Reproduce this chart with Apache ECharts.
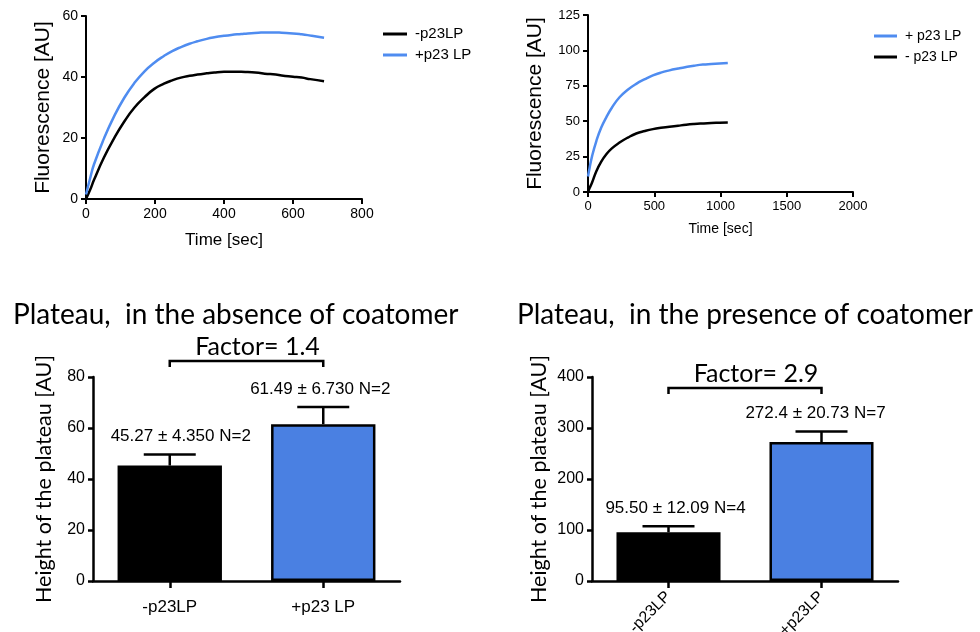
<!DOCTYPE html>
<html>
<head>
<meta charset="utf-8">
<script src="https://cdn.jsdelivr.net/npm/echarts@6/dist/echarts.min.js"></script>
<style>
html,body{margin:0;padding:0;background:#fff;}
#c{width:980px;height:632px;}
</style>
</head>
<body>
<div id="c"></div>
<script>
// ---- Top-left: kinetics, absence of coatomer ----
const tlTime  = [0, 12, 23, 52, 81, 111, 140, 169, 198, 226, 250, 275, 300, 323, 350, 372, 400, 421, 450, 469, 500, 518, 550, 567, 600, 625, 650, 690];
const tlMinus = [0, 3, 6.2, 13.6, 19.8, 25.4, 29.9, 33.3, 36.1, 37.8, 38.9, 39.8, 40.4, 40.8, 41.2, 41.5, 41.7, 41.7, 41.7, 41.6, 41.4, 41.1, 40.8, 40.5, 40.1, 39.8, 39.3, 38.6];
const tlPlus  = [1.5, 6.8, 11.3, 19.8, 27, 33.2, 38, 41.8, 44.7, 46.9, 48.5, 49.8, 50.9, 51.7, 52.5, 53.0, 53.5, 53.8, 54.1, 54.3, 54.5, 54.6, 54.6, 54.5, 54.3, 54.0, 53.6, 52.9];
const tlNames = ['-p23LP', '+p23 LP'];

// ---- Top-right: kinetics, presence of coatomer ----
const trTime  = [0, 12, 30, 63, 100, 138, 180, 238, 300, 364, 430, 490, 550, 615, 680, 741, 800, 867, 930, 992, 1055];
const trPlus  = [11, 17, 25, 36, 45.5, 52.7, 59.5, 66.9, 72.2, 76.4, 79.7, 82.3, 84.3, 85.9, 87.2, 88.3, 89.2, 90, 90.4, 90.7, 91.1];
const trMinus = [0, 2.8, 6.5, 14.7, 21.5, 26.6, 30.8, 34.9, 38.4, 41.3, 43.1, 44.4, 45.3, 46, 46.8, 47.5, 48, 48.4, 48.7, 48.9, 49.1];
const trNames = ['+ p23 LP', '- p23 LP'];

// ---- Bottom-left: plateau, absence of coatomer ----
const absCats = ['-p23LP', '+p23 LP'];
const absMean = [45.27, 61.49];
const absSD   = [4.350, 6.730];
const absN    = [2, 2];

// ---- Bottom-right: plateau, presence of coatomer ----
const preCats = ['-p23LP', '+p23LP'];
const preMean = [95.50, 272.4];
const preSD   = [12.09, 20.73];
const preN    = [4, 7];

const titles = ['Plateau,  in the absence of coatomer', 'Plateau,  in the presence of coatomer'];

// style constants (label nudges in pixels, not data)
const absLabelNudge = [11, -3];
const preLabelNudge = [7, -6];

const BLACK = '#000000';
const LINE_BLUE = '#4f8cf0';
const BAR_BLUE = '#4a80e2';
const ARIAL = '"Liberation Sans", Arial, sans-serif';
const CALIBRI = 'Lato, "Open Sans", sans-serif';

function pairs(xs, ys) { return xs.map((x, i) => [x, ys[i]]); }
function fmt(v) { return Number(v).toPrecision(4); }

function errorRender(means, sds, ns, nudge) {
  return function (params, api) {
    const i = params.dataIndex;
    const base = api.coord([i, means[i]]);
    const top = api.coord([i, means[i] + sds[i]]);
    const st = { stroke: BLACK, lineWidth: 2.5 };
    return {
      type: 'group',
      children: [
        { type: 'line', shape: { x1: base[0], y1: base[1], x2: top[0], y2: top[1] }, style: st },
        { type: 'line', shape: { x1: top[0] - 26, y1: top[1], x2: top[0] + 26, y2: top[1] }, style: st },
        { type: 'text', style: {
            text: fmt(means[i]) + ' \u00b1 ' + fmt(sds[i]) + ' N=' + ns[i],
            x: top[0] + nudge[i], y: top[1] - 18, align: 'center', verticalAlign: 'middle',
            fontSize: 17, fontFamily: ARIAL, fill: BLACK } }
      ]
    };
  };
}

function bracketRender(means, offset) {
  return function (params, api) {
    const a = api.coord([0, 0]);
    const b = api.coord([1, 0]);
    const y = params.coordSys.y + offset;
    const f = (means[1] / means[0]).toFixed(1);
    return {
      type: 'group',
      children: [
        { type: 'polyline', shape: { points: [[a[0], y + 6], [a[0], y], [b[0], y], [b[0], y + 6]] },
          style: { stroke: BLACK, lineWidth: 2.5, fill: null } },
        { type: 'text', style: { text: 'Factor= ' + f, x: (a[0] + b[0]) / 2 + 11, y: y - 14,
          align: 'center', verticalAlign: 'middle', fontSize: 25, fontFamily: CALIBRI, fill: BLACK } }
      ]
    };
  };
}

const axisLineStyle = { show: true, lineStyle: { color: BLACK, width: 2 } };
const tickStyle = { show: true, length: 5, lineStyle: { color: BLACK, width: 2 } };

function valueX(idx, max, interval, name, nameFs, gap, labFs) {
  return {
    type: 'value', gridIndex: idx, min: 0, max: max, interval: interval,
    name: name, nameLocation: 'middle', nameGap: gap,
    nameTextStyle: { fontSize: nameFs, fontFamily: ARIAL, color: BLACK },
    axisLine: axisLineStyle, axisTick: tickStyle, splitLine: { show: false },
    axisLabel: { fontSize: labFs, fontFamily: ARIAL, color: BLACK, margin: 8, formatter: v => String(v) }
  };
}
function valueY(idx, max, interval, name, nameFont, nameFs, gap, labFs, lw) {
  return {
    type: 'value', gridIndex: idx, min: 0, max: max, interval: interval,
    name: name, nameLocation: 'middle', nameGap: gap,
    nameTextStyle: { fontSize: nameFs, fontFamily: nameFont, color: BLACK },
    axisLine: { show: true, lineStyle: { color: BLACK, width: lw } },
    axisTick: { show: true, length: 5, lineStyle: { color: BLACK, width: lw } },
    splitLine: { show: false },
    axisLabel: { fontSize: labFs, fontFamily: ARIAL, color: BLACK, margin: 8, formatter: v => String(v) }
  };
}
function catX(idx, cats, rotate, margin, fs) {
  return {
    type: 'category', gridIndex: idx, data: cats,
    axisLine: { show: true, lineStyle: { color: BLACK, width: 2.5 } },
    axisTick: { show: true, alignWithLabel: true, length: 7, lineStyle: { color: BLACK, width: 2.5 } },
    axisLabel: { fontSize: fs, fontFamily: ARIAL, color: BLACK, rotate: rotate, margin: margin, interval: 0 }
  };
}

const chart = echarts.init(document.getElementById('c'), null, { renderer: 'canvas' });

chart.setOption({
  animation: false,
  backgroundColor: '#ffffff',
  title: [
    { text: titles[0], left: 8, top: 296, textStyle: { fontSize: 28, fontWeight: 'normal', fontFamily: CALIBRI, color: BLACK } },
    { text: titles[1], left: 512, top: 296, textStyle: { fontSize: 28, fontWeight: 'normal', fontFamily: CALIBRI, color: BLACK } }
  ],
  legend: [
    { data: tlNames, left: 378, top: 21, orient: 'vertical', icon: 'rect', itemWidth: 24, itemHeight: 3, itemGap: 5,
      textStyle: { fontSize: 15, lineHeight: 16, fontFamily: ARIAL, color: BLACK, padding: [0, 0, 0, 3] } },
    { data: trNames, left: 869, top: 23, orient: 'vertical', icon: 'rect', itemWidth: 23, itemHeight: 3, itemGap: 5,
      textStyle: { fontSize: 14, lineHeight: 16, fontFamily: ARIAL, color: BLACK, padding: [0, 0, 0, 3] } }
  ],
  grid: [
    { left: 86, top: 16, width: 276, height: 183, outerBoundsMode: 'none' },
    { left: 588, top: 15, width: 265, height: 177, outerBoundsMode: 'none' },
    { left: 93, top: 377, width: 307, height: 204, outerBoundsMode: 'none' },
    { left: 592, top: 377, width: 306, height: 204, outerBoundsMode: 'none' }
  ],
  xAxis: [
    valueX(0, 800, 200, 'Time [sec]', 17, 33, 14),
    valueX(1, 2000, 500, 'Time [sec]', 14, 30, 13),
    catX(2, absCats, 0, 18, 17),
    catX(3, preCats, 45, 13, 16)
  ],
  yAxis: [
    valueY(0, 60, 20, 'Fluorescence [AU]', ARIAL, 21, 32, 14, 2),
    valueY(1, 125, 25, 'Fluorescence [AU]', ARIAL, 21, 42, 13, 2),
    valueY(2, 80, 20, 'Height of the plateau [AU]', CALIBRI, 21.5, 38, 16, 2.5),
    valueY(3, 400, 100, 'Height of the plateau [AU]', CALIBRI, 21.5, 42, 16, 2.5)
  ],
  series: [
    { name: tlNames[0], type: 'line', xAxisIndex: 0, yAxisIndex: 0, data: pairs(tlTime, tlMinus),
      smooth: 0.5, symbol: 'none', color: BLACK, lineStyle: { width: 2.5, color: BLACK } },
    { name: tlNames[1], type: 'line', xAxisIndex: 0, yAxisIndex: 0, data: pairs(tlTime, tlPlus),
      smooth: 0.5, symbol: 'none', color: LINE_BLUE, lineStyle: { width: 2.5, color: LINE_BLUE } },
    { name: trNames[0], type: 'line', xAxisIndex: 1, yAxisIndex: 1, data: pairs(trTime, trPlus),
      smooth: 0.5, symbol: 'none', color: LINE_BLUE, lineStyle: { width: 2.5, color: LINE_BLUE } },
    { name: trNames[1], type: 'line', xAxisIndex: 1, yAxisIndex: 1, data: pairs(trTime, trMinus),
      smooth: 0.5, symbol: 'none', color: BLACK, lineStyle: { width: 2.5, color: BLACK } },

    { type: 'bar', xAxisIndex: 2, yAxisIndex: 2, barWidth: '68%',
      data: absMean.map((v, i) => ({ value: v, itemStyle: { color: i === 0 ? BLACK : BAR_BLUE, borderColor: BLACK, borderWidth: 2.5 } })) },
    { type: 'custom', xAxisIndex: 2, yAxisIndex: 2, renderItem: errorRender(absMean, absSD, absN, absLabelNudge),
      data: absMean.map((v, i) => [i, v, absSD[i]]), z: 5 },
    { type: 'custom', xAxisIndex: 2, yAxisIndex: 2, renderItem: bracketRender(absMean, -16),
      data: [[0, 0]], z: 5 },

    { type: 'bar', xAxisIndex: 3, yAxisIndex: 3, barWidth: '68%',
      data: preMean.map((v, i) => ({ value: v, itemStyle: { color: i === 0 ? BLACK : BAR_BLUE, borderColor: BLACK, borderWidth: 2.5 } })) },
    { type: 'custom', xAxisIndex: 3, yAxisIndex: 3, renderItem: errorRender(preMean, preSD, preN, preLabelNudge),
      data: preMean.map((v, i) => [i, v, preSD[i]]), z: 5 },
    { type: 'custom', xAxisIndex: 3, yAxisIndex: 3, renderItem: bracketRender(preMean, 11),
      data: [[0, 0]], z: 5 }
  ]
});
</script>
</body>
</html>
